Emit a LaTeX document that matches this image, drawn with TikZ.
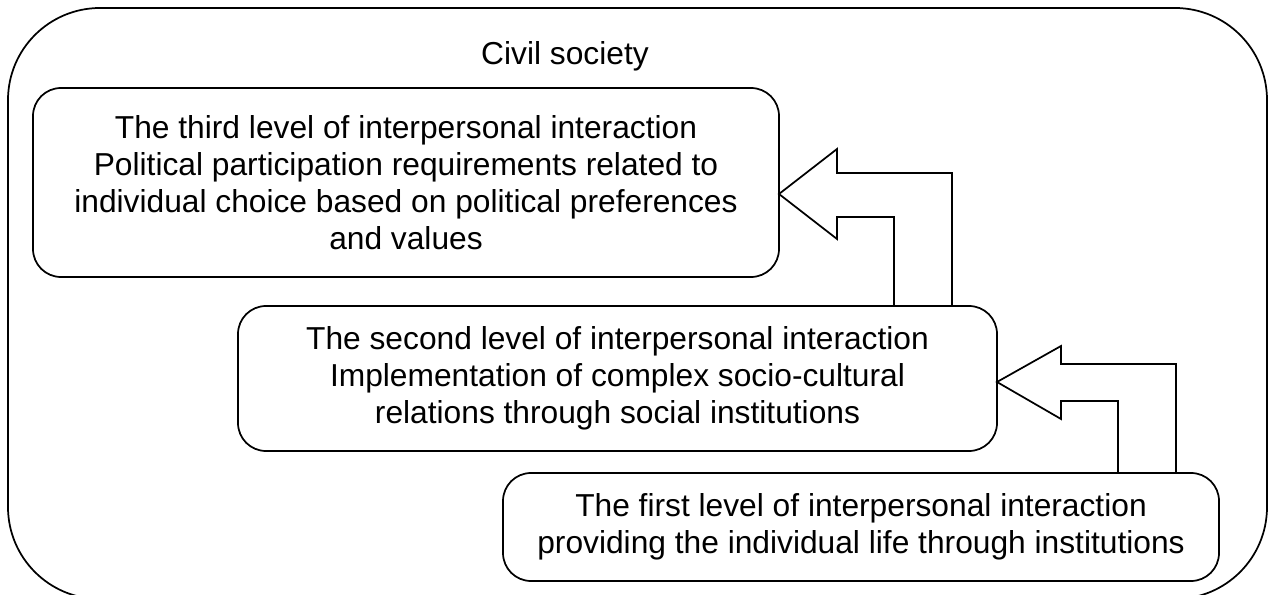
\documentclass[tikz,border=0pt]{standalone}
\usepackage{fontspec}
\setmainfont{Liberation Sans}
\begin{document}
\begin{tikzpicture}[x=0.75pt,y=-0.75pt,
  lvl/.style={draw,line width=1.3pt,rounded corners=21pt,inner sep=0pt,outer sep=0pt,align=center,
    font=\fontsize{23.8}{27.75}\selectfont},
  barrow/.style={draw,line width=1.3pt,line join=miter,fill=white}]
\useasboundingbox (0,0) rectangle (1268,595);
\clip (0,0) rectangle (1268,595);
\draw[line width=1.3pt,rounded corners=69pt] (8,8) rectangle (1267,599);
\node[anchor=base,font=\fontsize{23.8}{27.75}\selectfont] (title) at (565,65) {Civil society};
\node[lvl,minimum width=559.5pt,minimum height=141.75pt] (b1) at (406,182.5)
  {The third level of interpersonal interaction\\Political participation requirements related to\\individual choice based on political preferences\\and values};
\node[lvl,minimum width=569.25pt,minimum height=108.75pt] (b2) at (617.5,378.5)
  {The second level of interpersonal interaction\\Implementation of complex socio-cultural\\relations through social institutions};
\node[lvl,minimum width=537pt,minimum height=81pt] (b3) at (861,527)
  {The first level of interpersonal interaction\\providing the individual life through institutions};
% arrow from b2 to b1
\draw[barrow] (b1.east |- 0,194) -- (837,149) -- (837,173) -- (952,173) -- (952,0 |- b2.north)
  -- (894,0 |- b2.north) -- (894,217) -- (837,217) -- (837,239) -- cycle;
% arrow from b3 to b2
\draw[barrow] (b2.east |- 0,382) -- (1061,346) -- (1061,364) -- (1176,364) -- (1176,0 |- b3.north)
  -- (1118,0 |- b3.north) -- (1118,401) -- (1061,401) -- (1061,419) -- cycle;
\end{tikzpicture}
\end{document}
